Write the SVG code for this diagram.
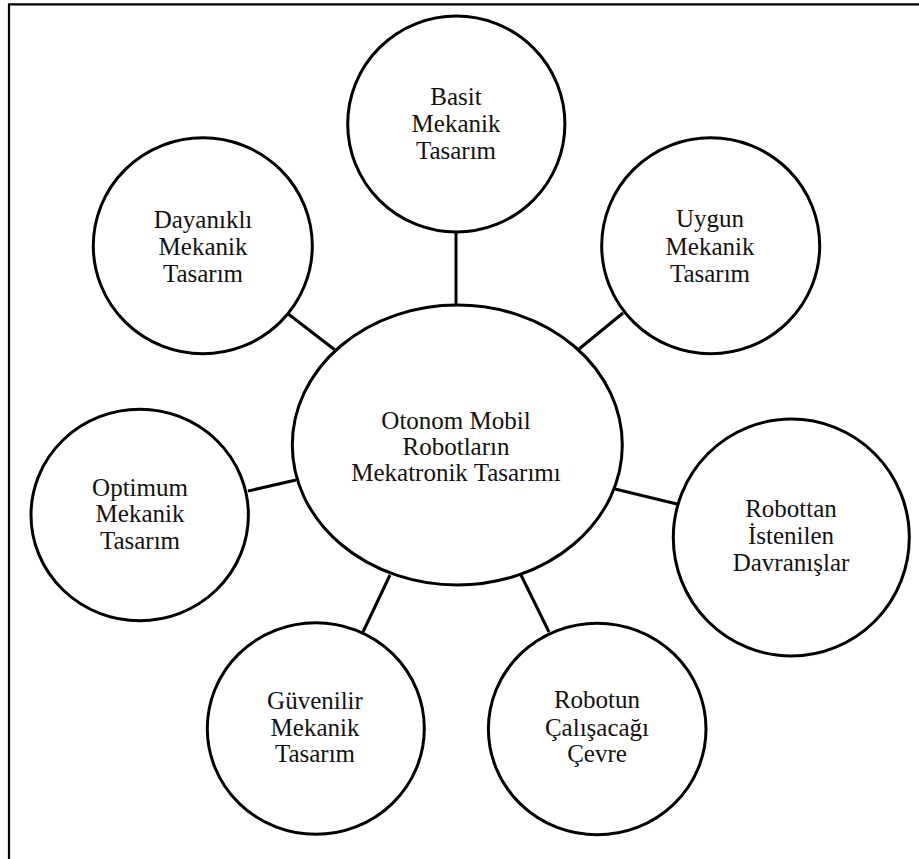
<svg xmlns="http://www.w3.org/2000/svg" width="919" height="859" viewBox="0 0 919 859">
<style>
.n{fill:#fff;stroke:#000;stroke-width:3}
.c line{stroke:#000;stroke-width:3}
.t{font-family:'Liberation Serif','Times New Roman','DejaVu Serif',serif;font-size:25px;fill:#111;text-anchor:middle}
</style>
<rect x="0" y="0" width="919" height="859" fill="#fff"/>
<path d="M9 859 V4.3 H919" fill="none" stroke="#000" stroke-width="2.2"/>
<g class="c" id="connectors">
<line x1="456" y1="232" x2="456" y2="306"/>
<line x1="287" y1="313" x2="335" y2="350"/>
<line x1="623" y1="313" x2="579" y2="349"/>
<line x1="248" y1="491" x2="296" y2="480"/>
<line x1="363" y1="632" x2="390" y2="575"/>
<line x1="521" y1="575" x2="549" y2="632"/>
<line x1="615" y1="489" x2="677" y2="504"/>
</g>
<g id="center">
<ellipse class="n" cx="457.3" cy="445" rx="165" ry="140"/>
<g class="t" font-family="Liberation Serif, serif" font-size="25">
<text x="456" y="429">Otonom Mobil</text>
<text x="456" y="455">Robotların</text>
<text x="456" y="481">Mekatronik Tasarımı</text>
</g>
</g>
<g id="basit">
<ellipse class="n" cx="456.3" cy="124" rx="108.6" ry="108"/>
<g class="t" font-family="Liberation Serif, serif" font-size="25">
<text x="456" y="105">Basit</text>
<text x="456" y="132">Mekanik</text>
<text x="456" y="159">Tasarım</text>
</g>
</g>
<g id="dayanikli">
<ellipse class="n" cx="202.8" cy="245.8" rx="109.5" ry="108"/>
<g class="t" font-family="Liberation Serif, serif" font-size="25">
<text x="203" y="228">Dayanıklı</text>
<text x="203" y="255">Mekanik</text>
<text x="203" y="282">Tasarım</text>
</g>
</g>
<g id="uygun">
<ellipse class="n" cx="710.7" cy="245.8" rx="109" ry="108"/>
<g class="t" font-family="Liberation Serif, serif" font-size="25">
<text x="710" y="227">Uygun</text>
<text x="710" y="255">Mekanik</text>
<text x="710" y="282">Tasarım</text>
</g>
</g>
<g id="optimum">
<ellipse class="n" cx="139.7" cy="515" rx="108.7" ry="105.7"/>
<g class="t" font-family="Liberation Serif, serif" font-size="25">
<text x="140" y="496">Optimum</text>
<text x="140" y="522">Mekanik</text>
<text x="140" y="549">Tasarım</text>
</g>
</g>
<g id="robottan">
<ellipse class="n" cx="791.3" cy="537.5" rx="118" ry="118.5"/>
<g class="t" font-family="Liberation Serif, serif" font-size="25">
<text x="791" y="517">Robottan</text>
<text x="791" y="544">İstenilen</text>
<text x="791" y="571">Davranışlar</text>
</g>
</g>
<g id="guvenilir">
<ellipse class="n" cx="315.8" cy="728.5" rx="108.5" ry="105.8"/>
<g class="t" font-family="Liberation Serif, serif" font-size="25">
<text x="315" y="709">Güvenilir</text>
<text x="315" y="736">Mekanik</text>
<text x="315" y="762">Tasarım</text>
</g>
</g>
<g id="robotun">
<ellipse class="n" cx="597.2" cy="729" rx="108.8" ry="105.8"/>
<g class="t" font-family="Liberation Serif, serif" font-size="25">
<text x="597" y="708">Robotun</text>
<text x="597" y="736">Çalışacağı</text>
<text x="597" y="762">Çevre</text>
</g>
</g>
</svg>
